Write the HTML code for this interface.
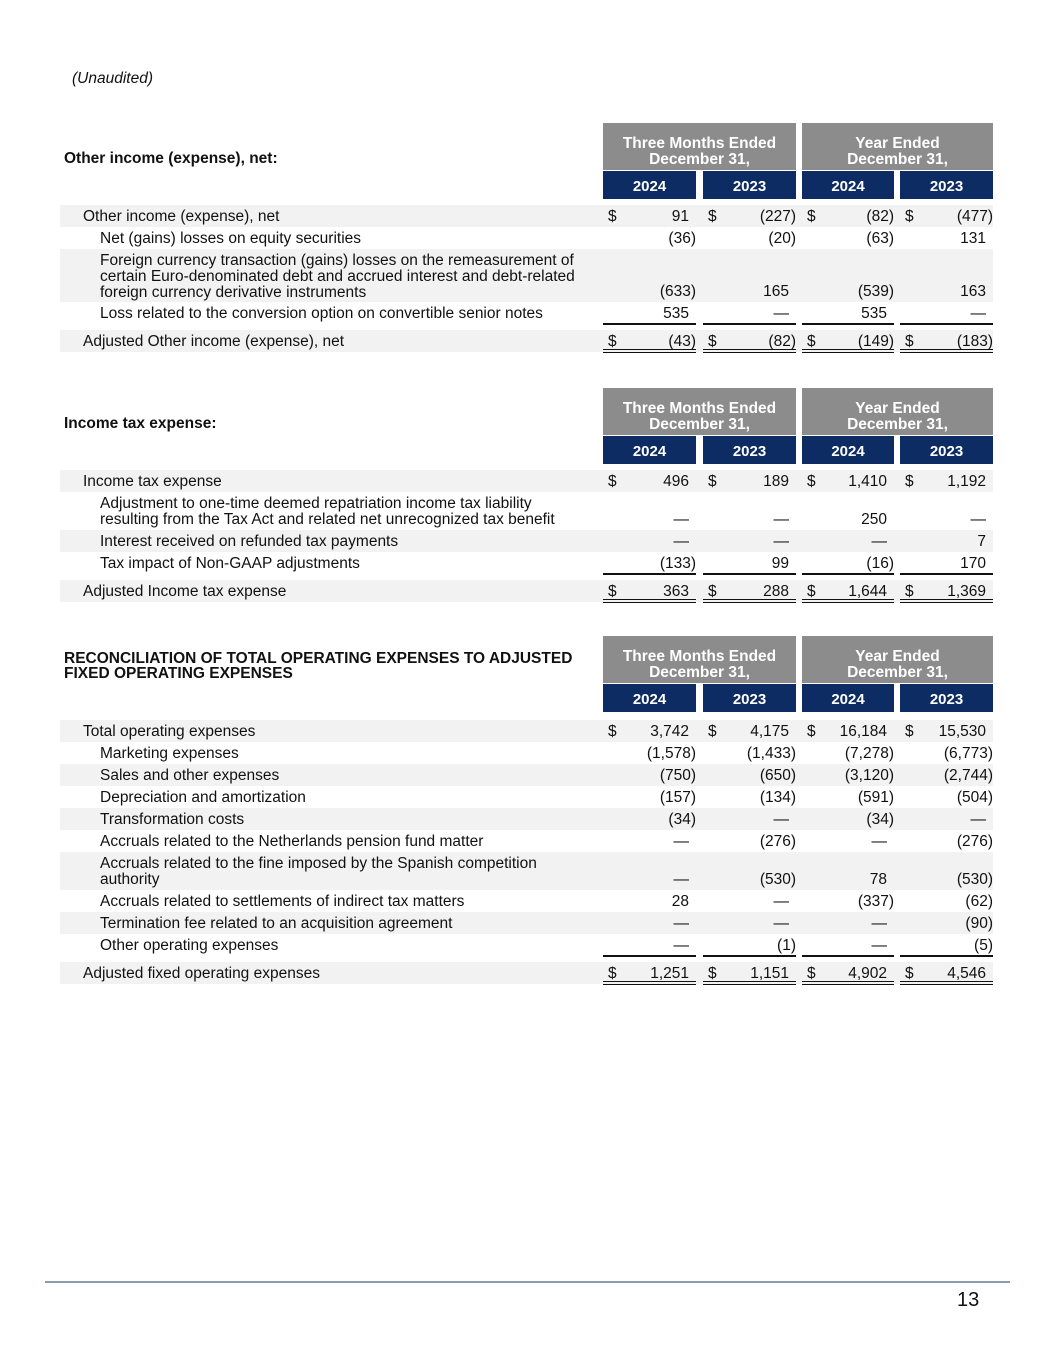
<!DOCTYPE html>
<html><head><meta charset="utf-8">
<style>
body{margin:0;background:#fff;}
#page{position:relative;width:1055px;height:1365px;overflow:hidden;font-family:"Liberation Sans",Arial,sans-serif;color:#111;font-size:15.5px;}
.a{position:absolute;white-space:nowrap;}
.shade{position:absolute;background:#f2f2f2;left:60px;width:933px;}
.lbl{position:absolute;line-height:16px;white-space:nowrap;}
.num{position:absolute;text-align:right;line-height:16px;}
.hdrG{position:absolute;background:#8c8c8c;color:#fff;font-weight:bold;text-align:center;font-size:15.5px;line-height:15.5px;}
.hdrN{position:absolute;background:#0c2c63;color:#fff;font-weight:bold;text-align:center;font-size:15px;}
.ln{position:absolute;background:#111;height:1.5px;}
</style></head>
<body>
<div id="page">
<div class="a" style="left:72px;top:70px;font-style:italic;font-size:15.5px;">(Unaudited)</div>
<div class="a" style="left:45px;top:1281px;width:965px;height:1.5px;background:#8a9bb0;"></div>
<div class="a" style="left:957px;top:1289px;font-size:20px;">13</div>
</div>
<script>
const colLefts=[603,703,802,900];
const colRights=[696,796,894,993];
const periodHeaders=["Three Months Ended<br>December 31,","Year Ended<br>December 31,"];
const yearLabels=["2024","2023","2024","2023"];

// Table 1
const t1Title="Other income (expense), net:";
const t1Labels=["Other income (expense), net","Net (gains) losses on equity securities","Foreign currency transaction (gains) losses on the remeasurement of<br>certain Euro-denominated debt and accrued interest and debt-related<br>foreign currency derivative instruments","Loss related to the conversion option on convertible senior notes","Adjusted Other income (expense), net"];
const t1Values=[["91","(227)","(82)","(477)"],["(36)","(20)","(63)","131"],["(633)","165","(539)","163"],["535","—","535","—"],["(43)","(82)","(149)","(183)"]];
// Table 2
const t2Title="Income tax expense:";
const t2Labels=["Income tax expense","Adjustment to one-time deemed repatriation income tax liability<br>resulting from the Tax Act and related net unrecognized tax benefit","Interest received on refunded tax payments","Tax impact of Non-GAAP adjustments","Adjusted Income tax expense"];
const t2Values=[["496","189","1,410","1,192"],["—","—","250","—"],["—","—","—","7"],["(133)","99","(16)","170"],["363","288","1,644","1,369"]];
// Table 3
const t3Title="RECONCILIATION OF TOTAL OPERATING EXPENSES TO ADJUSTED<br>FIXED OPERATING EXPENSES";
const t3Labels=["Total operating expenses","Marketing expenses","Sales and other expenses","Depreciation and amortization","Transformation costs","Accruals related to the Netherlands pension fund matter","Accruals related to the fine imposed by the Spanish competition<br>authority","Accruals related to settlements of indirect tax matters","Termination fee related to an acquisition agreement","Other operating expenses","Adjusted fixed operating expenses"];
const t3Values=[["3,742","4,175","16,184","15,530"],["(1,578)","(1,433)","(7,278)","(6,773)"],["(750)","(650)","(3,120)","(2,744)"],["(157)","(134)","(591)","(504)"],["(34)","—","(34)","—"],["—","(276)","—","(276)"],["—","(530)","78","(530)"],["28","—","(337)","(62)"],["—","—","—","(90)"],["—","(1)","—","(5)"],["1,251","1,151","4,902","4,546"]];

const page=document.getElementById('page');
function mk(cls,style,html){const d=document.createElement('div');d.className=cls;d.style.cssText=style;if(html!==undefined)d.innerHTML=html;page.appendChild(d);return d;}

function buildTable(key,title,labels,values,gTop,rowTop){
  const t=mk('a','left:64px;top:'+(title.indexOf('<br>')>=0?gTop+15:gTop+28)+'px;font-weight:bold;line-height:15px;',title);
  
  
  for(let p=0;p<2;p++){
    const g=mk('hdrG','left:'+colLefts[p*2]+'px;top:'+gTop+'px;width:'+(colRights[p*2+1]-colLefts[p*2])+'px;height:47px;padding-top:13px;box-sizing:border-box;',periodHeaders[p]);
    
    
  }
  for(let c=0;c<4;c++){
    const n=mk('hdrN','left:'+colLefts[c]+'px;top:'+(gTop+48)+'px;width:'+(colRights[c]-colLefts[c])+'px;height:28px;line-height:31px;',yearLabels[c]);
    
    
  }
  let y=rowTop;
  const last=labels.length-1;
  for(let r=0;r<labels.length;r++){
    const lines=(labels[r].match(/<br>/g)||[]).length+1;
    const isTotal=r===last;
    if(isTotal) y+=6;
    const h=lines===1?22:(lines===2?38:53);
    if(r%2===0||isTotal){
      const s=mk('shade','top:'+y+'px;height:'+h+'px;');
      
      
    }
    const indent=(r===0||isTotal)?83:100;
    const l=mk('lbl','left:'+indent+'px;top:'+(y+4)+'px;',labels[r]);
    
    
    const vy=y+h-18;
    for(let c=0;c<4;c++){
      const v=values[r][c];
      const paren=v.charAt(v.length-1)===')';
      const nd=mk('num','left:'+colLefts[c]+'px;width:'+(colRights[c]-colLefts[c]-(paren?0:7))+'px;top:'+vy+'px;',v);
      
      
      if(r===0||isTotal){
        const d=mk('a','left:'+(colLefts[c]+5)+'px;top:'+vy+'px;line-height:16px;','$');
        
        
      }
      if(isTotal){
        const w=colRights[c]-colLefts[c];
        const l1=mk('ln','left:'+colLefts[c]+'px;top:'+(y-7)+'px;width:'+w+'px;');
        
        
        const l2=mk('ln','left:'+colLefts[c]+'px;top:'+(y+h-3)+'px;width:'+w+'px;height:1px;');
        
        
        const l3=mk('ln','left:'+colLefts[c]+'px;top:'+(y+h)+'px;width:'+w+'px;height:1px;');
        
        
      }
    }
    y+=h;
  }
}
buildTable('other-income',t1Title,t1Labels,t1Values,123,205);
buildTable('income-tax',t2Title,t2Labels,t2Values,388,470);
buildTable('opex',t3Title,t3Labels,t3Values,636,720);
</script>
</body></html>
